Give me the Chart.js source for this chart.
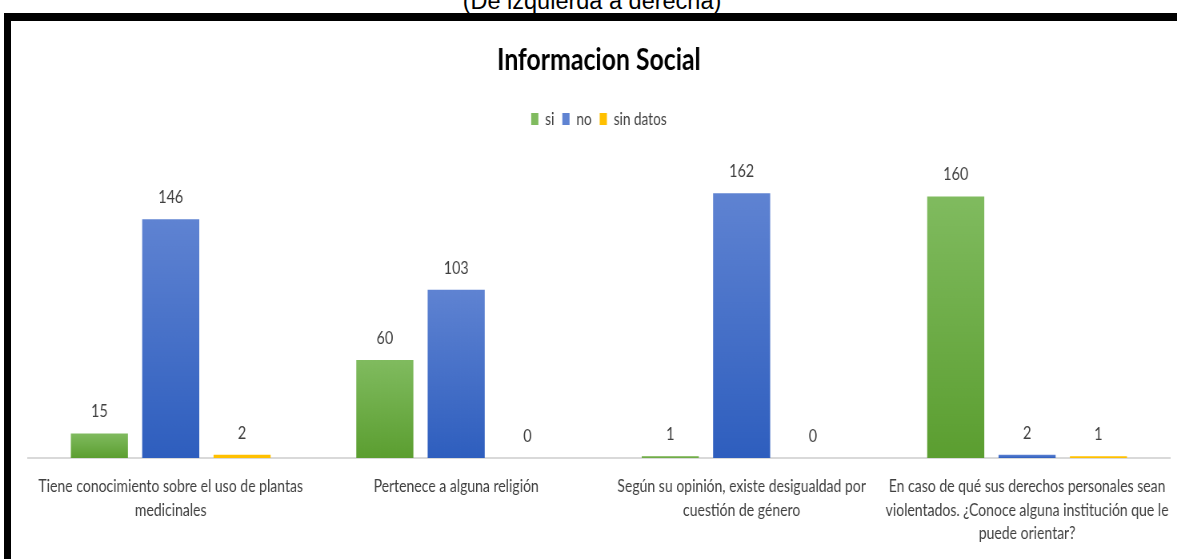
<!DOCTYPE html>
<html>
<head>
<meta charset="utf-8">
<script src="https://cdn.jsdelivr.net/npm/chart.js@4.4.0/dist/chart.umd.min.js"></script>
<style>
html, body { margin: 0; padding: 0; background: #fff; overflow: hidden; width: 1177px; height: 559px; }
#top { position: absolute; left: 0; top: -12px; width: 1184px; text-align: center; font-family: "Liberation Sans", Arial, sans-serif; font-size: 23.5px; line-height: 27px; color: #000; }
#frame { position: absolute; left: 4px; top: 13px; width: 1200px; height: 600px; border-left: 7px solid #000; border-top: 8px solid #000; }
#wrap { position: absolute; left: 0; top: 0; width: 1471px; height: 559px; transform: scaleX(0.80014); transform-origin: 0 0; }
</style>
</head>
<body>
<div id="top">(De izquierda a derecha)</div>
<div id="frame"></div>
<div id="wrap"><canvas id="chart" width="1471" height="559"></canvas></div>
<script>
const categories = [
    ["Tiene conocimiento sobre el uso de plantas", "medicinales"],
    "Pertenece a alguna religión",
    ["Según su opinión, existe desigualdad por", "cuestión de género"],
    ["En caso de qué sus derechos personales sean", "violentados. ¿Conoce alguna institución que le", "puede orientar?"],
];
const seriesNames = ["si", "no", "sin datos"];
const si = [15, 60, 1, 160];
const no = [146, 103, 162, 2];
const sinDatos = [2, 0, 0, 1];
const yMax = 196;

const font = "Lato";
const textColor = "#404040";

// gradient per bar, lighter at the top like the office chart
function barFill(topColor, bottomColor, flat) {
    return function (ctx) {
        if (ctx.type !== "data") return flat;
        const chart = ctx.chart;
        const y = chart.scales.y;
        if (!y || !chart.chartArea) return flat;
        const y0 = y.getPixelForValue(0);
        const y1 = y.getPixelForValue(ctx.raw);
        if (!isFinite(y1) || y0 - y1 < 2) return flat;
        const g = chart.ctx.createLinearGradient(0, y1, 0, y0);
        g.addColorStop(0, topColor);
        g.addColorStop(1, bottomColor);
        return g;
    };
}

const valueLabels = {
    id: "valueLabels",
    afterDatasetsDraw(chart) {
        const c = chart.ctx;
        c.save();
        c.font = "18px " + font;
        c.fillStyle = textColor;
        c.textAlign = "center";
        c.textBaseline = "alphabetic";
        chart.data.datasets.forEach(function (ds, i) {
            chart.getDatasetMeta(i).data.forEach(function (bar, j) {
                c.fillText(String(ds.data[j]), bar.x, bar.y - 16);
            });
        });
        c.restore();
    },
};

new Chart(document.getElementById("chart").getContext("2d"), {
    type: "bar",
    data: {
        labels: categories,
        datasets: [
            {
                label: seriesNames[0],
                data: si,
                backgroundColor: barFill("#80bb5f", "#5b9e30", "#70ad47"),
            },
            {
                label: seriesNames[1],
                data: no,
                backgroundColor: barFill("#5f83d2", "#2e5ebe", "#4472c4"),
            },
            {
                label: seriesNames[2],
                data: sinDatos,
                backgroundColor: "#ffc000",
            },
        ],
    },
    options: {
        responsive: false,
        animation: false,
        categoryPercentage: 0.75,
        barPercentage: 0.8,
        layout: {
            padding: { left: 35, right: 9, top: 0, bottom: 0 },
        },
        scales: {
            x: {
                grid: { display: false, drawTicks: false },
                border: { display: true, color: "#d9d9d9", width: 2 },
                afterFit: function (axis) {
                    axis.height = 101;
                    axis.paddingLeft = 0;
                    axis.paddingRight = 0;
                },
                ticks: {
                    padding: 17,
                    color: textColor,
                    maxRotation: 0,
                    autoSkip: false,
                    font: { family: font, size: 17.5, lineHeight: 1.33 },
                },
            },
            y: {
                display: false,
                min: 0,
                max: yMax,
            },
        },
        plugins: {
            title: {
                display: true,
                text: "Informacion Social",
                color: "#000",
                font: { family: font, size: 31, weight: "bold", lineHeight: 1.2 },
                padding: { top: 40.9, bottom: 22.5 },
            },
            legend: {
                display: true,
                labels: {
                    color: textColor,
                    boxWidth: 9,
                    boxHeight: 12,
                    padding: 10,
                    font: { family: font, size: 17 },
                },
            },
            tooltip: { enabled: false },
        },
    },
    plugins: [valueLabels],
});
</script>
</body>
</html>
